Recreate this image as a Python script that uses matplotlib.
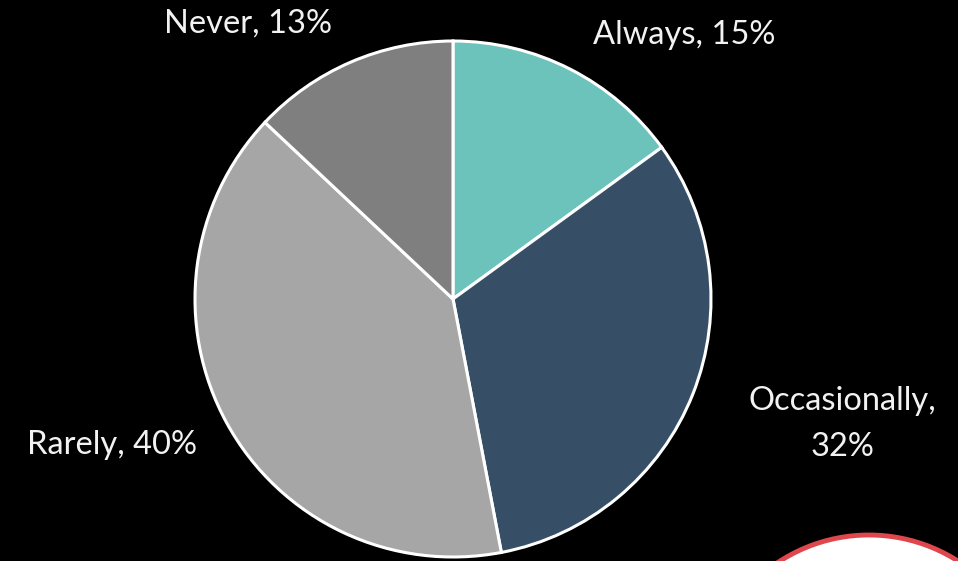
import matplotlib
matplotlib.use("Agg")
import matplotlib.pyplot as plt
from matplotlib.patches import Circle

# Survey answer shares (percent)
categories = ["Always", "Occasionally", "Rarely", "Never"]
shares = [15, 32, 40, 13]
colors = ["#6CC3BC", "#374F66", "#A6A6A6", "#7F7F7F"]

W, H = 958, 561
fig = plt.figure(figsize=(W / 100, H / 100), dpi=100, facecolor="black")
ax = fig.add_axes([0, 0, 1, 1])
ax.set_facecolor("black")

center = (453, H - 299)
radius = 258

ax.pie(shares, colors=colors, startangle=90, counterclock=False,
       center=center, radius=radius, frame=True,
       wedgeprops=dict(edgecolor="white", linewidth=2.2))
ax.set_xlim(0, W)
ax.set_ylim(0, H)
ax.set_aspect("equal")
ax.axis("off")

# Partial badge circle at the lower right
ax.add_patch(Circle((869, H - 700), 165, facecolor="white",
                    edgecolor="#E0474C", linewidth=3.5, zorder=5))

txt = dict(color="#F2F2F2", fontsize=23.5, fontweight="normal",
           family=["Lato", "DejaVu Sans"], ha="center", va="center")
ax.text(684, H - 35, f"{categories[0]}, {shares[0]}%", **txt)
ax.text(842, H - 401, f"{categories[1]},", **txt)
ax.text(842, H - 447, f"{shares[1]}%", **txt)
ax.text(112, H - 445, f"{categories[2]}, {shares[2]}%", **txt)
ax.text(248, H - 24, f"{categories[3]}, {shares[3]}%", **txt)

fig.savefig("out.png", dpi=100, facecolor="black")
